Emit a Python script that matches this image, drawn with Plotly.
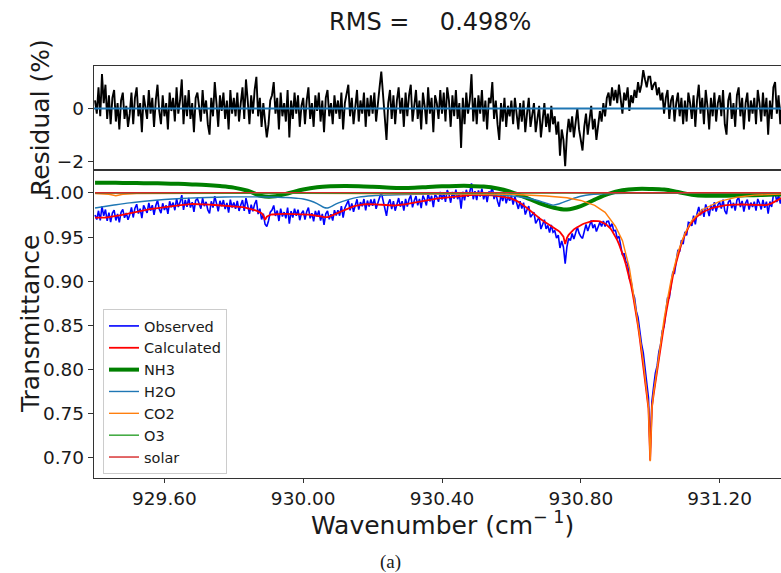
import numpy as np
import plotly.graph_objects as go
from plotly.subplots import make_subplots

# ---------------------------------------------------------------------------
# Spectral fit data (wavenumber grid: 929.400 ... 931.380 cm-1, step 0.005)
# ---------------------------------------------------------------------------
wn_start = 929.40
wn_step = 0.005

# Fit residual, observed - calculated, in percent
residual_pct = [
    0.3, -0.2, 0.8, -0.3, 1.3, 0.2, 0.9, -0.4, 0.5, -0.6, 0.4, 0.7, -0.5, 0.2, -0.8, 0.3, 0.6, -0.4, 0.1, -0.7,
    -0.2, 0.6, -0.6, 0.4, 0.8, -0.3, 0.2, -0.9, 0.5, 0.1, -0.4, 0.7, -0.2, 0.4, -0.7, 0.3, 0.9, -0.1, -0.6, 0.5,
    -0.3, 0.2, -0.8, 0.6, -0.1, 0.4, -0.5, 0.8, -0.2, 0.3, 1.1, -0.6, 0.5, -0.3, 0.7, -0.4, 0.2, -0.9, 0.4, 0.6,
    0.1, -0.5, 0.7, -0.2, 0.3, -0.6, -1.0, 0.4, -0.3, 1.0, 0.2, -0.7, 0.5, -0.1, 0.6, -0.4, 0.3, -0.8, 0.7, -0.2,
    0.4, -0.3, 0.6, -0.5, 0.2, 0.8, -0.4, 1.1, 0.3, -0.6, 0.5, -0.2, 0.7, 1.2, -0.3, 0.4, -0.7, 0.2, -0.5, -1.1,
    -0.6, 0.3, 0.5, 1.0, -0.2, 0.4, -0.8, 0.6, -0.3, 0.2, -0.5, 0.7, -1.1, 0.3, -0.4, 0.6, -0.2, 0.5, -0.7, 0.1,
    0.4, -0.6, 0.3, 0.8, -0.4, 0.2, -0.7, 0.5, -0.1, 0.6, -0.5, 0.3, -0.9, 0.4, 0.7, -0.3, 0.2, -0.6, 0.5, -0.2,
    0.3, -0.4, 0.6, -0.8, 0.2, 0.5, 0.9, -0.3, 0.4, -0.6, 0.1, 0.7, -0.5, 0.3, -0.2, 0.6, -0.7, 0.4, -0.3, 0.5,
    -0.2, 0.6, -0.5, 0.3, 0.8, 1.4, 0.4, -0.3, -1.2, 0.2, 0.7, -0.4, 0.5, -0.6, 0.3, 0.8, -0.2, 0.4, -0.7, 0.6,
    -0.3, 0.5, 0.9, -0.5, 0.2, 0.7, -0.4, 0.3, -0.8, 0.6, 0.1, -0.6, 0.8, -0.2, 0.4, -0.9, 0.5, 0.2, -0.4, 0.7,
    -0.2, 0.6, -0.5, 0.8, 0.3, -0.7, 0.5, -0.3, 0.7, -0.4, 0.2, -1.5, 0.4, -0.6, 0.6, -0.2, 0.3, 1.3, -0.5, 0.4,
    -0.6, 0.5, -0.2, 0.7, -0.5, 0.3, -0.8, 0.4, 0.2, 1.0, -0.4, 0.3, -0.6, -1.2, 0.2, -0.5, 0.4, -0.7, 0.1, -0.3,
    0.3, -0.6, 0.4, -0.3, -0.8, 0.2, -0.5, 0.3, -0.9, -0.2, 0.4, -0.7, -0.3, 0.2, -0.9, -0.4, 0.1, -1.1, -0.5, 0.2,
    -0.7, -0.2, -0.9, 0.1, -0.6, -0.3, -1.0, -0.5, -1.8, -0.8, -1.2, -2.2, -1.0, -0.4, -0.9, -0.3, -1.1, -0.6, 0.0, -0.8,
    -1.3, -1.6, -0.7, -0.2, -1.0, -0.5, 0.1, -0.8, -0.4, -1.2, -0.6, -0.1, -0.5, 0.2, -0.3, 0.4, 0.6, 0.1, 0.8, 0.3,
    0.7, 0.2, 0.9, 0.4, -0.2, 0.6, 0.3, 0.8, -0.1, 0.5, 0.2, 0.7, 0.4, 1.0, 0.6, 0.9, 1.45, 1.1, 0.8, 1.2,
    1.2, 0.7, 0.9, 1.0, 0.5, 0.8, 0.3, 0.6, -0.2, 0.4, 0.7, -0.4, 0.3, 0.5, -0.5, 0.2, 0.6, -0.3, 0.4, -0.6,
    0.3, -0.5, 0.6, 0.2, -0.4, 0.5, -0.7, 0.3, 0.9, -0.2, 0.4, -0.6, 0.7, 0.1, -0.8, 0.4, -0.3, 0.6, -0.5, 0.2,
    0.5, -0.3, 0.7, -0.6, -1.0, 0.3, 0.6, -0.4, 0.2, -0.7, 0.5, 0.8, -0.3, 0.4, -0.8, 0.2, 0.6, -0.5, 0.3, -0.2,
    0.4, -0.6, 0.7, 0.2, -0.5, 0.6, -0.3, 0.4, -1.0, 0.3, -0.4, 0.8, 1.0, -0.2, 0.5, -0.6, 0.3,
]

# Calculated (fitted) transmittance on the same grid
calculated = [
    0.9720, 0.9719, 0.9718, 0.9718, 0.9719, 0.9720, 0.9722, 0.9724, 0.9726, 0.9729, 0.9732, 0.9735, 0.9738, 0.9742, 0.9746, 0.9750, 0.9754, 0.9758, 0.9762, 0.9767,
    0.9772, 0.9777, 0.9782, 0.9787, 0.9792, 0.9797, 0.9801, 0.9805, 0.9809, 0.9812, 0.9815, 0.9817, 0.9819, 0.9821, 0.9823, 0.9825, 0.9827, 0.9829, 0.9831, 0.9833,
    0.9836, 0.9839, 0.9842, 0.9845, 0.9848, 0.9851, 0.9854, 0.9857, 0.9860, 0.9863, 0.9866, 0.9868, 0.9870, 0.9872, 0.9873, 0.9874, 0.9875, 0.9875, 0.9875, 0.9874,
    0.9873, 0.9872, 0.9871, 0.9870, 0.9869, 0.9868, 0.9867, 0.9866, 0.9865, 0.9864, 0.9863, 0.9862, 0.9861, 0.9860, 0.9859, 0.9858, 0.9857, 0.9856, 0.9855, 0.9854,
    0.9853, 0.9851, 0.9849, 0.9846, 0.9843, 0.9840, 0.9836, 0.9832, 0.9828, 0.9823, 0.9818, 0.9812, 0.9806, 0.9799, 0.9791, 0.9782, 0.9770, 0.9745, 0.9695, 0.9730,
    0.9745, 0.9752, 0.9756, 0.9758, 0.9760, 0.9761, 0.9762, 0.9762, 0.9763, 0.9763, 0.9763, 0.9763, 0.9763, 0.9763, 0.9762, 0.9762, 0.9762, 0.9761, 0.9761, 0.9760,
    0.9759, 0.9758, 0.9757, 0.9755, 0.9753, 0.9751, 0.9749, 0.9746, 0.9743, 0.9740, 0.9736, 0.9732, 0.9727, 0.9724, 0.9726, 0.9731, 0.9738, 0.9746, 0.9755, 0.9764,
    0.9773, 0.9782, 0.9791, 0.9800, 0.9809, 0.9818, 0.9826, 0.9834, 0.9841, 0.9847, 0.9853, 0.9858, 0.9862, 0.9866, 0.9869, 0.9871, 0.9873, 0.9874, 0.9875, 0.9875,
    0.9874, 0.9873, 0.9871, 0.9869, 0.9867, 0.9865, 0.9863, 0.9861, 0.9860, 0.9859, 0.9858, 0.9858, 0.9858, 0.9859, 0.9860, 0.9862, 0.9864, 0.9866, 0.9869, 0.9872,
    0.9875, 0.9879, 0.9883, 0.9887, 0.9891, 0.9895, 0.9899, 0.9903, 0.9907, 0.9911, 0.9915, 0.9918, 0.9921, 0.9924, 0.9927, 0.9930, 0.9933, 0.9936, 0.9939, 0.9941,
    0.9944, 0.9947, 0.9950, 0.9953, 0.9956, 0.9959, 0.9962, 0.9965, 0.9967, 0.9969, 0.9971, 0.9973, 0.9974, 0.9975, 0.9976, 0.9977, 0.9978, 0.9978, 0.9979, 0.9979,
    0.9979, 0.9979, 0.9979, 0.9978, 0.9978, 0.9977, 0.9976, 0.9975, 0.9974, 0.9972, 0.9970, 0.9968, 0.9966, 0.9964, 0.9962, 0.9959, 0.9956, 0.9952, 0.9948, 0.9943,
    0.9937, 0.9929, 0.9920, 0.9910, 0.9899, 0.9887, 0.9874, 0.9860, 0.9845, 0.9829, 0.9812, 0.9795, 0.9778, 0.9761, 0.9745, 0.9730, 0.9715, 0.9701, 0.9688, 0.9676,
    0.9664, 0.9652, 0.9640, 0.9628, 0.9615, 0.9602, 0.9588, 0.9573, 0.9556, 0.9535, 0.9505, 0.9420, 0.9490, 0.9525, 0.9550, 0.9570, 0.9587, 0.9601, 0.9614, 0.9625,
    0.9635, 0.9645, 0.9654, 0.9662, 0.9669, 0.9675, 0.9679, 0.9682, 0.9683, 0.9683, 0.9681, 0.9677, 0.9671, 0.9662, 0.9651, 0.9637, 0.9620, 0.9600, 0.9572, 0.9540,
    0.9505, 0.9465, 0.9420, 0.9370, 0.9315, 0.9255, 0.9190, 0.9120, 0.9040, 0.8950, 0.8850, 0.8740, 0.8620, 0.8490, 0.8350, 0.8200, 0.8045, 0.7885, 0.7720, 0.7560,
    0.6970, 0.7570, 0.7720, 0.7860, 0.7990, 0.8120, 0.8250, 0.8380, 0.8505, 0.8625, 0.8740, 0.8850, 0.8955, 0.9050, 0.9140, 0.9220, 0.9295, 0.9365, 0.9425, 0.9480,
    0.9528, 0.9570, 0.9607, 0.9640, 0.9668, 0.9693, 0.9715, 0.9734, 0.9751, 0.9766, 0.9779, 0.9790, 0.9800, 0.9809, 0.9817, 0.9824, 0.9830, 0.9835, 0.9840, 0.9844,
    0.9848, 0.9852, 0.9855, 0.9858, 0.9861, 0.9863, 0.9865, 0.9867, 0.9868, 0.9869, 0.9870, 0.9870, 0.9870, 0.9869, 0.9868, 0.9866, 0.9864, 0.9862, 0.9861, 0.9860,
    0.9860, 0.9861, 0.9862, 0.9863, 0.9863, 0.9862, 0.9861, 0.9862, 0.9866, 0.9873, 0.9882, 0.9893, 0.9905, 0.9917, 0.9928, 0.9938, 0.9946,
]

# Individual absorber transmittances
nh3_wn = [929.40, 929.44, 929.48, 929.52, 929.56, 929.60, 929.64, 929.68, 929.72, 929.76,
          929.80, 929.84, 929.88, 929.92, 929.96, 930.00, 930.04, 930.08, 930.12, 930.16,
          930.20, 930.24, 930.28, 930.32, 930.36, 930.40, 930.44, 930.48, 930.52, 930.56,
          930.60, 930.64, 930.68, 930.72, 930.76, 930.80, 930.84, 930.88, 930.92, 930.96,
          931.00, 931.04, 931.08, 931.12, 931.16, 931.20, 931.24, 931.28, 931.32, 931.36, 931.40]
nh3 = [1.0115, 1.0115, 1.0114, 1.0112, 1.0110, 1.0107, 1.0103, 1.0097, 1.0090, 1.0078,
       1.0060, 1.0025, 0.9965, 0.9962, 1.0000, 1.0040, 1.0065, 1.0075, 1.0078, 1.0076,
       1.0070, 1.0062, 1.0055, 1.0058, 1.0068, 1.0076, 1.0080, 1.0080, 1.0072, 1.0050,
       1.0010, 0.9950, 0.9885, 0.9835, 0.9812, 0.9850, 0.9925, 0.9990, 1.0030, 1.0045,
       1.0045, 1.0038, 1.0010, 0.9980, 0.9968, 0.9968, 0.9970, 0.9973, 0.9977, 0.9981, 0.9984]

h2o_wn = [929.40, 929.45, 929.50, 929.55, 929.60, 929.65, 929.70, 929.75, 929.80, 929.85,
          929.90, 929.95, 929.98, 930.00, 930.02, 930.04, 930.06, 930.07, 930.08, 930.10,
          930.13, 930.16, 930.20, 930.25, 930.30, 930.35, 930.40, 930.45, 930.50, 930.55,
          930.58, 930.61, 930.64, 930.67, 930.70, 930.72, 930.74, 930.77, 930.80, 930.83,
          930.87, 930.95, 931.05, 931.20, 931.40]
h2o = [0.9830, 0.9860, 0.9888, 0.9909, 0.9925, 0.9937, 0.9946, 0.9952, 0.9955, 0.9956,
       0.9954, 0.9948, 0.9940, 0.9932, 0.9912, 0.9880, 0.9835, 0.9830, 0.9845, 0.9885,
       0.9925, 0.9952, 0.9968, 0.9977, 0.9982, 0.9985, 0.9987, 0.9987, 0.9985, 0.9979,
       0.9972, 0.9962, 0.9945, 0.9920, 0.9885, 0.9862, 0.9880, 0.9925, 0.9962, 0.9982,
       0.9991, 0.9995, 0.9996, 0.9997, 0.9998]

co2_wn = [929.40, 929.44, 929.46, 929.48, 929.52, 929.60, 929.80, 930.00, 930.20, 930.40,
          930.50, 930.60, 930.70, 930.76, 930.80, 930.84, 930.87, 930.90, 930.92, 930.94,
          930.96, 930.97, 930.98, 930.99, 930.995, 931.000, 931.005, 931.01, 931.02, 931.03,
          931.04, 931.05, 931.06, 931.08, 931.10, 931.12, 931.15, 931.20, 931.25, 931.30,
          931.35, 931.40]
co2 = [0.9993, 0.9985, 0.9968, 0.9985, 0.9993, 0.9995, 0.9996, 0.9996, 0.9995, 0.9993,
       0.9990, 0.9985, 0.9965, 0.9945, 0.9915, 0.9860, 0.9780, 0.9620, 0.9460, 0.9150,
       0.8650, 0.8400, 0.8100, 0.7750, 0.7570, 0.6960, 0.7560, 0.7740, 0.8030, 0.8310,
       0.8570, 0.8800, 0.9010, 0.9330, 0.9540, 0.9690, 0.9810, 0.9905, 0.9952, 0.9975,
       0.9985, 0.9990]

o3_wn = [929.40, 929.90, 930.40, 930.90, 931.40]
o3 = [0.9998, 0.9997, 0.9997, 0.9998, 0.9998]

solar_wn = [929.40, 929.90, 930.40, 930.90, 931.40]
solar = [1.0003, 1.0004, 1.0004, 1.0003, 1.0003]

rms_text = "RMS =\u00a0\u00a0\u00a0 0.498%"
wn_ticks = [929.60, 930.00, 930.40, 930.80, 931.20]

assert len(residual_pct) == len(calculated)
wavenumber = np.round(wn_start + wn_step * np.arange(len(calculated)), 3)
observed = np.array(calculated) + np.array(residual_pct) / 100.0

# ---------------------------------------------------------------------------
# Figure
# ---------------------------------------------------------------------------
FONT = "DejaVu Sans"
TXT = "#1a1a1a"
FRAME = "#333333"
W, H = 781, 573
ML, MR, MT, MB = 94, 0, 66, 95
top_frac = 104 / (H - MT - MB)

fig = make_subplots(rows=2, cols=1, shared_xaxes=True, vertical_spacing=0,
                    row_heights=[top_frac, 1 - top_frac])

fig.add_trace(go.Scatter(x=wavenumber, y=residual_pct, mode="lines",
                         line=dict(color="black", width=1.9),
                         showlegend=False, hoverinfo="skip"), row=1, col=1)
fig.add_hline(y=0, line=dict(color="#1f77b4", width=2), row=1, col=1)

series = [
    ("Observed", wavenumber, observed, "#0000ff", 1.6, "linear"),
    ("Calculated", wavenumber, calculated, "#ff0000", 1.8, "linear"),
    ("NH3", nh3_wn, nh3, "#008000", 4.0, "spline"),
    ("H2O", h2o_wn, h2o, "#1f77b4", 1.4, "spline"),
    ("CO2", co2_wn, co2, "#ff7f0e", 1.4, "linear"),
    ("O3", o3_wn, o3, "#2ca02c", 1.4, "spline"),
    ("solar", solar_wn, solar, "#d62728", 1.4, "spline"),
]
for name, xs, ys, color, width, shape in series:
    fig.add_trace(go.Scatter(x=xs, y=ys, mode="lines", name=name,
                             line=dict(color=color, width=width, shape=shape)),
                  row=2, col=1)

x_range = [929.397, 931.377]
axis_common = dict(showgrid=False, zeroline=False, showline=True,
                   linecolor=FRAME, linewidth=1.3)
fig.update_xaxes(range=x_range, **axis_common, mirror=True)
fig.update_xaxes(showticklabels=False, ticks="", row=1, col=1)
fig.update_xaxes(tickvals=wn_ticks, tickformat=".2f", ticks="outside",
                 ticklen=4, tickwidth=1.2, tickcolor=FRAME,
                 tickfont=dict(family=FONT, size=18.5, color=TXT), row=2, col=1)
fig.update_yaxes(**axis_common, ticks="outside", ticklen=5, tickwidth=1.2,
                 tickcolor=FRAME, tickfont=dict(family=FONT, size=18.5, color=TXT))
fig.update_yaxes(range=[-2.34, 1.61], tickvals=[-2, 0], row=1, col=1)
fig.update_yaxes(range=[0.677, 1.026], tick0=0.70, dtick=0.05,
                 tickformat=".2f", row=2, col=1)

plot_w = W - ML - MR
plot_h = H - MT - MB


def px_x(px):
    return (px - ML) / plot_w


def px_y(py):
    return (H - MB - py) / plot_h


annotations = [
    dict(text=rms_text, x=px_x(430), y=px_y(22), font=dict(size=24)),
    dict(text="Wavenumber (cm<sup>\u2212 1</sup>)", x=px_x(442), y=px_y(523),
         font=dict(size=25)),
    dict(text="Transmittance", x=px_x(30), y=px_y(324), textangle=-90,
         font=dict(size=25)),
    dict(text="Residual (%)", x=px_x(40), y=px_y(118), textangle=-90,
         font=dict(size=25)),
    dict(text="(a)", x=px_x(390), y=px_y(562),
         font=dict(size=19, family="Liberation Serif")),
]
for a in annotations:
    f = dict(family=FONT, color=TXT)
    f.update(a.pop("font"))
    fig.add_annotation(xref="paper", yref="paper", xanchor="center",
                       yanchor="middle", showarrow=False, font=f, **a)

fig.update_layout(
    width=W, height=H,
    margin=dict(l=ML, r=MR, t=MT, b=MB, pad=0),
    paper_bgcolor="white", plot_bgcolor="white",
    showlegend=True,
    legend=dict(x=px_x(103), y=px_y(474), xanchor="left", yanchor="bottom",
                bgcolor="rgba(255,255,255,0.85)", bordercolor="#cccccc",
                borderwidth=1, font=dict(family=FONT, size=14.5, color=TXT),
                itemwidth=30, tracegroupgap=0),
    hovermode=False,
)

fig.write_html("out.html")
